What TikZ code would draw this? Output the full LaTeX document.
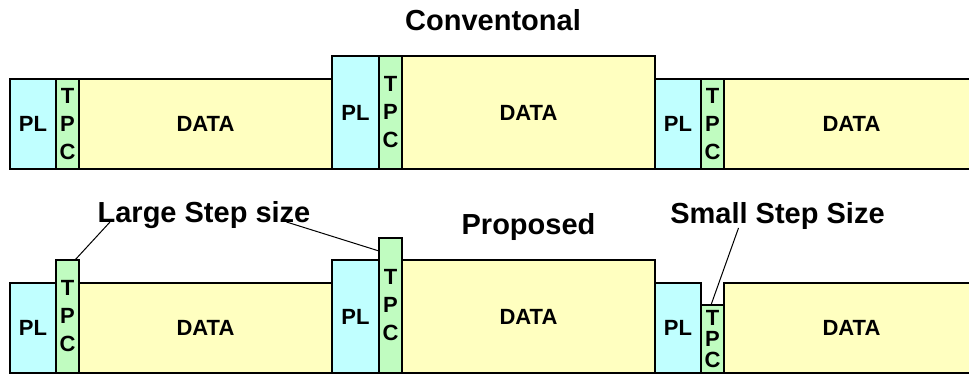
\documentclass[tikz,border=0pt]{standalone}
\usepackage{fontspec}
\setmainfont{Liberation Sans}
\usetikzlibrary{calc}
\definecolor{plc}{RGB}{192,255,255}
\definecolor{tpcc}{RGB}{192,252,192}
\definecolor{datac}{RGB}{255,255,192}
\newcommand\cellbox[7]{%
  \node[cell, fill=#6, minimum width={(#4-#2)*1pt}, minimum height={(#5-#3)*1pt}]
    (#1) at ({(#2+#4)/2},{(#3+#5)/2}) {#7};}
\begin{document}
\begin{tikzpicture}[x=1pt,y=-1pt,
  cell/.style={draw=black, line width=1.8pt, inner sep=0pt, outer sep=0pt,
    font=\bfseries\fontsize{22}{28}\selectfont, align=center},
  tight/.style={font=\bfseries\fontsize{22}{21}\selectfont},
  lbl/.style={font=\bfseries\fontsize{29}{30}\selectfont, inner sep=0pt},
  leader/.style={line width=1pt}]
\useasboundingbox (0,0) rectangle (969,374);
% top row: conventional
\cellbox{pl1t}{10}{79}{56}{169}{plc}{PL}
\cellbox{tpc1t}{56}{79}{79}{169}{tpcc}{T\\P\\C}
\cellbox{data1t}{79}{79}{332}{169}{datac}{DATA}
\cellbox{pl2t}{332}{56}{379}{169}{plc}{PL}
\cellbox{tpc2t}{379}{56}{402}{169}{tpcc}{T\\P\\C}
\cellbox{data2t}{402}{56}{655}{169}{datac}{DATA}
\cellbox{pl3t}{655}{79}{701}{169}{plc}{PL}
\cellbox{tpc3t}{701}{79}{724}{169}{tpcc}{T\\P\\C}
\cellbox{data3t}{724}{79}{985}{169}{datac}{DATA\hspace*{6pt}}
% bottom row: proposed
\cellbox{pl1b}{10}{283}{56}{373}{plc}{PL}
\cellbox{data1b}{79}{283}{332}{373}{datac}{DATA}
\cellbox{tpc1b}{56}{260}{79}{373}{tpcc}{T\\P\\C}
\cellbox{pl2b}{332}{260}{379}{373}{plc}{PL}
\cellbox{data2b}{402}{260}{655}{373}{datac}{DATA}
\cellbox{tpc2b}{379}{238}{402}{373}{tpcc}{T\\P\\C}
\cellbox{pl3b}{655}{283}{701}{373}{plc}{PL}
\cellbox{data3b}{724}{283}{985}{373}{datac}{DATA\hspace*{6pt}}
\node[cell, tight, fill=tpcc, minimum width=23pt, minimum height=68pt] (tpc3b) at (712.5,339) {T\\P\\C};
% labels
\node[lbl, anchor=base] (conv) at (493,31) {Conventonal};
\node[lbl, anchor=base] (prop) at (528.5,235) {Proposed};
\node[lbl, anchor=base] (large) at (204,222.7) {Large Step size};
\node[lbl, anchor=base] (small) at (777.5,224) {Small Step Size};
% leaders
\coordinate (la) at (110,222);
\coordinate (lb) at (286.5,222);
\coordinate (sa) at (738.5,228);
\draw[leader] (la) -- ($(tpc1b.north east)+(-4,0)$);
\draw[leader] (lb) -- ($(tpc2b.north west)+(0,13)$);
\draw[leader] (sa) -- ($(tpc3b.north)+(-1.5,0)$);
\end{tikzpicture}
\end{document}
